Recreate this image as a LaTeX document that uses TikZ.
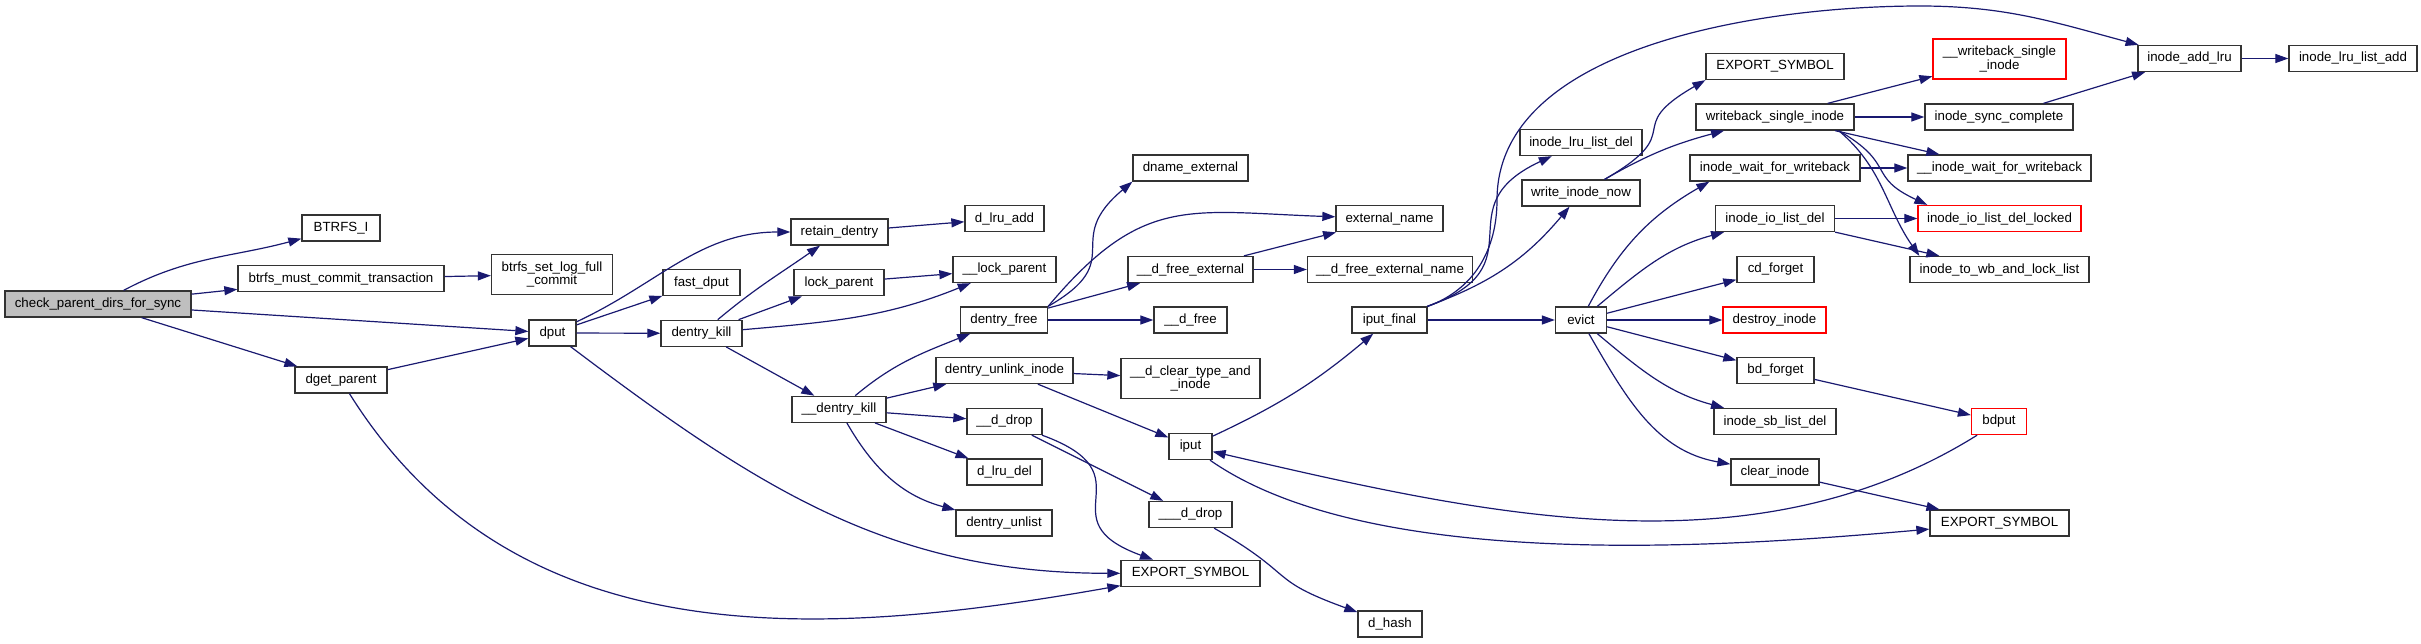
\documentclass[tikz,border=0pt]{standalone}
\usepackage{fontspec}
\setmainfont{Liberation Sans}
\usetikzlibrary{arrows.meta}
\definecolor{callblue}{HTML}{191970}
\definecolor{rootgray}{HTML}{BFBFBF}
\newcommand\fnfont{\fontsize{13.3}{13.3}\selectfont}

\begin{document}
\begin{tikzpicture}[x=1pt,y=1pt,>={Triangle[length=13pt,width=9pt]},
  fn/.style={draw=black!80,fill=white,line width=1.3pt,minimum height=26pt,inner sep=0pt,font=\fnfont,align=center},
  trunc/.style={fn,draw=red},
  call/.style={->,color=callblue,line width=1.2pt}]
  \useasboundingbox (0,0) rectangle (2421,-643);

  \node[fn,fill=rootgray,minimum width=186pt] (chk) at (98,-304) {check\_parent\_dirs\_for\_sync};
  \node[fn,minimum width=78pt] (btrfsi) at (341,-228) {BTRFS\_I};
  \node[fn,minimum width=206pt] (mustc) at (341,-278.5) {btrfs\_must\_commit\_transaction};
  \node[fn,minimum width=92pt] (dget) at (341,-380) {dget\_parent};
  \node[fn,minimum width=121pt,minimum height=40pt] (setlog) at (552,-274.5) {btrfs\_set\_log\_full\\\_commit};
  \node[fn,minimum width=47pt] (dput) at (552.5,-333) {dput};
  \node[fn,minimum width=77pt] (fastdput) at (701.5,-282.7) {fast\_dput};
  \node[fn,minimum width=81pt] (dkill) at (701.5,-333.3) {dentry\_kill};
  \node[fn,minimum width=97pt] (retain) at (839.5,-232) {retain\_dentry};
  \node[fn,minimum width=90pt] (lockp) at (839,-282.7) {lock\_parent};
  \node[fn,minimum width=94pt] (ddkill) at (839,-409.3) {\_\_dentry\_kill};
  \node[fn,minimum width=79pt] (dlruadd) at (1004.5,-218.5) {d\_lru\_add};
  \node[fn,minimum width=103pt] (ulockp) at (1004.5,-269.5) {\_\_lock\_parent};
  \node[fn,minimum width=87pt] (dfree) at (1004,-320) {dentry\_free};
  \node[fn,minimum width=137pt] (dunlink) at (1004.5,-370.5) {dentry\_unlink\_inode};
  \node[fn,minimum width=75pt] (udrop) at (1004.5,-421.5) {\_\_d\_drop};
  \node[fn,minimum width=75pt] (dlrudel) at (1004.5,-472) {d\_lru\_del};
  \node[fn,minimum width=96pt] (dunlist) at (1004,-523) {dentry\_unlist};
  \node[fn,minimum width=115pt] (dname) at (1190.5,-168) {dname\_external};
  \node[fn,minimum width=125pt] (dfreeext) at (1190.5,-269.5) {\_\_d\_free\_external};
  \node[fn,minimum width=73pt] (udfree) at (1190.5,-320) {\_\_d\_free};
  \node[fn,minimum width=139pt,minimum height=40pt] (dclear) at (1190.5,-378.7) {\_\_d\_clear\_type\_and\\\_inode};
  \node[fn,minimum width=43pt] (iput) at (1190.5,-446.5) {iput};
  \node[fn,minimum width=83pt] (uudrop) at (1190.5,-514.5) {\_\_\_d\_drop};
  \node[fn,minimum width=139pt] (esa) at (1190.5,-573.3) {EXPORT\_SYMBOL};
  \node[fn,minimum width=107pt] (extname) at (1389.5,-218.7) {external\_name};
  \node[fn,minimum width=165pt] (dfreeextn) at (1390,-269.5) {\_\_d\_free\_external\_name};
  \node[fn,minimum width=75pt] (ifinal) at (1389.5,-320) {iput\_final};
  \node[fn,minimum width=64pt] (dhash) at (1390,-624) {d\_hash};
  \node[fn,minimum width=122pt] (ilrudel) at (1581,-142.5) {inode\_lru\_list\_del};
  \node[fn,minimum width=118pt] (winow) at (1581,-193) {write\_inode\_now};
  \node[fn,minimum width=51pt] (evict) at (1581,-320) {evict};
  \node[fn,minimum width=138pt] (esb) at (1775,-66.5) {EXPORT\_SYMBOL};
  \node[fn,minimum width=158pt] (wsi) at (1775,-117) {writeback\_single\_inode};
  \node[fn,minimum width=170pt] (iwfw) at (1775,-168) {inode\_wait\_for\_writeback};
  \node[fn,minimum width=119pt] (iiodel) at (1775,-218.5) {inode\_io\_list\_del};
  \node[fn,minimum width=77pt] (cdforget) at (1775.5,-269.5) {cd\_forget};
  \node[trunc,minimum width=103pt] (destroy) at (1774.5,-320) {destroy\_inode};
  \node[fn,minimum width=77pt] (bdforget) at (1775.5,-370.5) {bd\_forget};
  \node[fn,minimum width=122pt] (isbdel) at (1775,-421.5) {inode\_sb\_list\_del};
  \node[fn,minimum width=88pt] (clearin) at (1775,-472) {clear\_inode};
  \node[trunc,minimum width=133pt,minimum height=40pt] (uwsi) at (1999.5,-59) {\_\_writeback\_single\\\_inode};
  \node[fn,minimum width=148pt] (isync) at (1999,-117) {inode\_sync\_complete};
  \node[fn,minimum width=183pt] (uiwfw) at (1999.5,-168) {\_\_inode\_wait\_for\_writeback};
  \node[trunc,minimum width=163pt] (iiodell) at (1999.5,-218.5) {inode\_io\_list\_del\_locked};
  \node[fn,minimum width=179pt] (itwb) at (1999.5,-269.5) {inode\_to\_wb\_and\_lock\_list};
  \node[trunc,minimum width=55pt] (bdput) at (1999,-421.5) {bdput};
  \node[fn,minimum width=139pt] (esc) at (1999.5,-523) {EXPORT\_SYMBOL};
  \node[fn,minimum width=103pt] (addlru) at (2189.5,-58.5) {inode\_add\_lru};
  \node[fn,minimum width=128pt] (lruadd) at (2353,-58.5) {inode\_lru\_list\_add};

  \draw[call] (chk) to[out=28,in=195] (btrfsi);
  \draw[call] (chk) -- (mustc);
  \draw[call] (chk) -- (dput);
  \draw[call] (chk) -- (dget);
  \draw[call] (mustc) -- (setlog);
  \draw[call] (dget) -- (dput);
  \draw[call] (dget) to[out=-58,in=190] (esa);
  \draw[call] (dput) to[out=25,in=180] (retain);
  \draw[call] (dput) -- (fastdput);
  \draw[call] (dput) -- (dkill);
  \draw[call] (dput) to[out=-37,in=180] (esa);
  \draw[call] (retain) -- (dlruadd);
  \draw[call] (dkill) to[out=40,in=-145] (retain);
  \draw[call] (dkill) -- (lockp);
  \draw[call] (dkill) to[out=5,in=-158] (ulockp);
  \draw[call] (dkill) -- (ddkill);
  \draw[call] (lockp) -- (ulockp);
  \draw[call] (ddkill) to[out=40,in=-158] (dfree);
  \draw[call] (ddkill) -- (dunlink);
  \draw[call] (ddkill) -- (udrop);
  \draw[call] (ddkill) -- (dlrudel);
  \draw[call] (ddkill) to[out=-60,in=165] (dunlist);
  \draw[call] (dfree.north east) to[out=30,in=-140,looseness=1.6] (dname.south west);
  \draw[call] (dfree.north east) to[out=50,in=178,looseness=1.25] (extname);
  \draw[call] (dfree) -- (dfreeext);
  \draw[call] (dfree) -- (udfree);
  \draw[call] (dfreeext) -- (extname);
  \draw[call] (dfreeext) -- (dfreeextn);
  \draw[call] (dunlink) -- (dclear);
  \draw[call] (dunlink) -- (iput);
  \draw[call] (udrop) -- (uudrop);
  \draw[call] (udrop) to[out=-20,in=160,looseness=1.8] (esa);
  \draw[call] (uudrop) to[out=-30,in=160,looseness=1.5] (dhash);
  \draw[call] (iput) to[out=25,in=-140] (ifinal);
  \draw[call] (iput) to[out=-35,in=185,looseness=.7] (esc);
  \draw[call] (bdput) to[out=-148,in=-13,looseness=.9] (iput);
  \draw[call] (ifinal) -- (evict);
  \draw[call] (ifinal.north east) to[out=20,in=-155,looseness=1.6] (ilrudel);
  \draw[call] (ifinal) to[out=20,in=-130] (winow);
  \draw[call] (ifinal.north east) to[out=20,in=-90] (1497,-200) to[out=90,in=180,looseness=.85] (1920,-6) to[out=0,in=165] (addlru);
  \draw[call] (winow) to[out=30,in=-150,looseness=1.8] (esb.south west);
  \draw[call] (winow) to[out=30,in=-165] (wsi);
  \draw[call] (evict) to[out=62,in=-150] ([xshift=20pt]iwfw.south west);
  \draw[call] (evict) to[out=40,in=-165] (iiodel);
  \draw[call] (evict) -- (cdforget);
  \draw[call] (evict) -- (destroy);
  \draw[call] (evict) -- (bdforget);
  \draw[call] (evict) to[out=-40,in=165] (isbdel);
  \draw[call] (evict) to[out=-60,in=170] (clearin);
  \draw[call] (wsi) -- (uwsi);
  \draw[call] (wsi) -- (isync);
  \draw[call] (wsi) -- (uiwfw);
  \draw[call] ([xshift=-16pt]wsi.south east) to[out=-30,in=155,looseness=1.5] ([xshift=10pt]iiodell.north west);
  \draw[call] ([xshift=-16pt]wsi.south east) to[out=-40,in=125] ([xshift=10pt]itwb.north west);
  \draw[call] (iwfw) -- (uiwfw);
  \draw[call] (iiodel) -- (iiodell);
  \draw[call] (iiodel) -- (itwb);
  \draw[call] (isync) -- (addlru);
  \draw[call] (addlru) -- (lruadd);
  \draw[call] (clearin) -- (esc);
  \draw[call] (bdforget) -- (bdput);
\end{tikzpicture}
\end{document}
